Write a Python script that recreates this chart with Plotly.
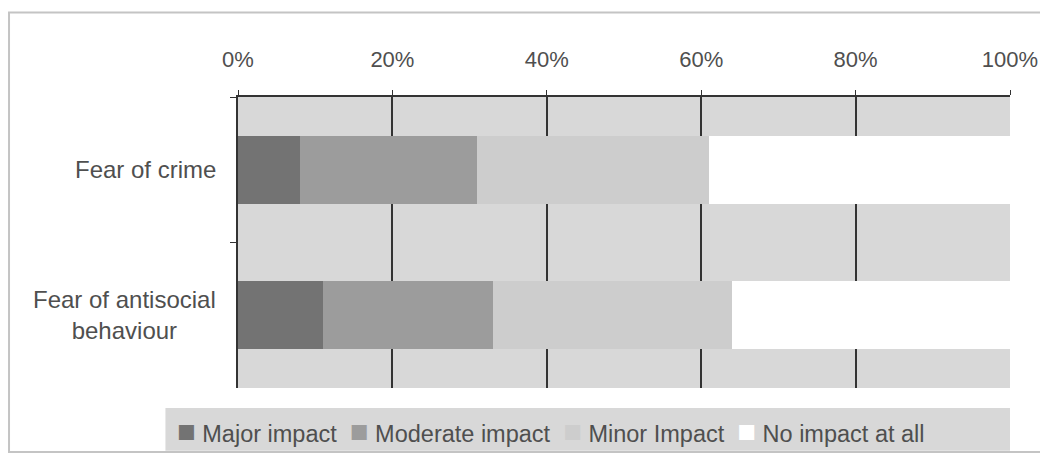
import plotly.graph_objects as go

categories = ["Fear of crime", "Fear of antisocial behaviour"]
category_labels = ["Fear of crime", "Fear of antisocial<br>behaviour"]
series_names = ["Major impact", "Moderate impact", "Minor Impact", "No impact at all"]
major = [8, 11]
moderate = [23, 22]
minor = [30, 31]
no_impact = [39, 36]
tick_vals = [0, 20, 40, 60, 80, 100]
tick_text = ["0%", "20%", "40%", "60%", "80%", "100%"]

colors = ["#737373", "#9c9c9c", "#cdcdcd", "#ffffff"]
values = [major, moderate, minor, no_impact]

FONT = "Liberation Sans, Arial, sans-serif"
TEXT = "#4f4f4f"

fig = go.Figure()
for name, vals, col in zip(series_names, values, colors):
    fig.add_trace(go.Bar(
        y=categories, x=vals, name=name, orientation="h",
        marker=dict(color=col, line=dict(width=0)),
        width=0.47, showlegend=False,
    ))

# category labels, centred multi-line like the original
for cat, lab in zip(categories, category_labels):
    fig.add_annotation(x=-0.026, xref="paper", y=cat, yref="y", text=lab,
                       showarrow=False, xanchor="right", align="center",
                       font=dict(family=FONT, size=24, color=TEXT))

# compact legend written as one line of text
nb = "\u00a0"
legend_parts = []
for name, col in zip(series_names, colors):
    legend_parts.append(f'<span style="color:{col};font-size:31px">■</span>{nb}{name}')
fig.add_annotation(x=-0.0816, xref="paper", y=-0.148, yref="paper",
                   text=(nb * 2).join(legend_parts), showarrow=False,
                   xanchor="left", yanchor="middle",
                   font=dict(family=FONT, size=23.5, color=TEXT))

# outer frame and legend band
fig.add_shape(type="rect", xref="paper", yref="paper",
              x0=-0.2966, x1=1.048, y0=-0.22, y1=1.29,
              line=dict(color="#c4c4c4", width=2), layer="below")
fig.add_shape(type="rect", xref="paper", yref="paper",
              x0=-0.094, x1=1.0, y0=-0.069, y1=-0.216,
              fillcolor="#d8d8d8", line=dict(width=0), layer="below")

fig.update_layout(
    barmode="stack",
    width=1048, height=453,
    margin=dict(l=230, r=46, t=89, b=73),
    paper_bgcolor="white",
    plot_bgcolor="#d8d8d8",
    font=dict(family=FONT, size=22, color=TEXT),
    bargap=0.53,
    showlegend=False,
)
fig.update_xaxes(
    side="top", range=[0, 100], tickvals=tick_vals, ticktext=tick_text,
    showgrid=True, gridcolor="#333333", gridwidth=1.8,
    showline=True, linecolor="#333333", linewidth=2,
    ticks="outside", ticklen=5, tickcolor="#333333",
    ticklabelstandoff=14, zeroline=False, automargin=False,
    tickfont=dict(size=22, color=TEXT),
)
fig.update_yaxes(
    autorange="reversed", showline=True, linecolor="#333333", linewidth=1.5,
    ticks="outside", tickson="boundaries", ticklen=6, tickcolor="#333333",
    showgrid=False, showticklabels=False, automargin=False,
)

fig.write_html("out.html")
